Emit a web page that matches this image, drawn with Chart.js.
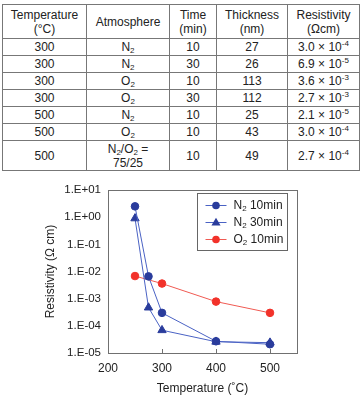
<!DOCTYPE html>
<html><head><meta charset="utf-8">
<script src="https://cdn.jsdelivr.net/npm/chart.js@4.4.0/dist/chart.umd.min.js"></script>
<style>
html,body{margin:0;padding:0;background:#fff;width:361px;height:396px;overflow:hidden;font-family:'Liberation Sans',Arial,sans-serif;color:#222}
#tbl{position:absolute;left:2px;top:4px;border-collapse:collapse;table-layout:fixed;width:357px;font-size:12px}
#tbl td,#tbl th{border:1px solid #777;text-align:center;padding:0;font-weight:normal;line-height:14px;height:16px}
#tbl th{height:33px}
#tbl tr.tall td{height:29px}
sub{font-size:8px;vertical-align:-2px;line-height:0}
sup{font-size:8px;vertical-align:5px;line-height:0}
#wrap{position:absolute;left:0;top:175px;width:361px;height:221px}
</style></head>
<body>
<table id="tbl">
<colgroup><col style="width:84px"><col style="width:83px"><col style="width:47px"><col style="width:71px"><col style="width:72px"></colgroup>
<thead id="thead"></thead><tbody id="tbody"></tbody>
</table>
<div id="wrap"><canvas id="c" width="361" height="221"></canvas></div>
<script>
// ---- table data ----
const headers = ['Temperature\n(°C)', 'Atmosphere', 'Time\n(min)', 'Thickness\n(nm)', 'Resistivity\n(Ωcm)'];
const tempRows = [300, 300, 300, 300, 500, 500, 500];
const atmRows = ['N₂', 'N₂', 'O₂', 'O₂', 'N₂', 'O₂', 'N₂/O₂ =\n75/25'];
const timeRows = [10, 30, 10, 30, 10, 10, 10];
const thickRows = [27, 26, 113, 112, 25, 43, 49];
const resMant = ['3.0', '6.9', '3.6', '2.7', '2.1', '3.0', '2.7'];
const resExp = [-4, -5, -3, -3, -5, -4, -4];

// ---- chart data ----
const seriesNames = ['N₂ 10min', 'N₂ 30min', 'O₂ 10min'];
const n2Temps = [250, 275, 300, 400, 500];
const n2_10 = [2.5, 6.6e-3, 3.0e-4, 2.7e-5, 2.1e-5];
const n2_30 = [0.9, 4.7e-4, 6.9e-5, 2.6e-5, 2.4e-5];
const o2Temps = [250, 300, 400, 500];
const o2_10 = [6.8e-3, 3.6e-3, 7.8e-4, 3.0e-4];
const xTicks = [200, 300, 400, 500];
const yTickExps = [-5, -4, -3, -2, -1, 0, 1];

const fmtSub = s => s.replace(/₂/g, '<sub>2</sub>').replace(/\n/g, '<br>');
document.getElementById('thead').innerHTML = '<tr>' + headers.map(h => '<th>' + fmtSub(h) + '</th>').join('') + '</tr>';
document.getElementById('tbody').innerHTML = tempRows.map((t, i) =>
  '<tr' + (atmRows[i].includes('\n') ? ' class="tall"' : '') + '><td>' + t + '</td><td>' + fmtSub(atmRows[i]) + '</td><td>' + timeRows[i] +
  '</td><td>' + thickRows[i] + '</td><td>' + resMant[i] + ' × 10<sup>' + resExp[i] + '</sup></td></tr>').join('');

const FONT = "'Liberation Sans', Arial, sans-serif";
const BLUE_M = '#2a3c9c', BLUE_L = '#4a62c4', RED_M = '#f2322a', RED_L = '#f05a52';

const frame = {
  id: 'frame',
  beforeDatasetsDraw(c) {
    const {ctx, chartArea: a} = c;
    ctx.save();
    ctx.strokeStyle = '#707070'; ctx.lineWidth = 1;
    const l = Math.round(a.left) + 0.5, t = Math.round(a.top) + 0.5;
    ctx.strokeRect(l, t, Math.round(a.right - a.left), Math.round(a.bottom - a.top));
    const xs = c.scales.x;
    xTicks.forEach(v => {
      const px = Math.round(xs.getPixelForValue(v)) + 0.5;
      ctx.beginPath(); ctx.moveTo(px, a.bottom); ctx.lineTo(px, a.bottom - 4); ctx.stroke();
    });
    ctx.restore();
  },
  afterDraw(c) {
    const {ctx, chartArea: a} = c;
    ctx.save();
    const bx = Math.round(a.right) - 100 + 0.5, by = Math.round(a.top) + 3 + 0.5;
    ctx.fillStyle = '#fff';
    ctx.fillRect(bx, by, 90, 57);
    ctx.strokeStyle = '#666'; ctx.lineWidth = 1;
    ctx.strokeRect(bx, by, 90, 57);
    c.data.datasets.forEach((ds, i) => {
      const y = by + 12 + i * 17;
      const x0 = bx + 8;
      ctx.strokeStyle = ds.borderColor; ctx.lineWidth = 1;
      ctx.beginPath(); ctx.moveTo(x0, y); ctx.lineTo(x0 + 21, y); ctx.stroke();
      ctx.fillStyle = ds.pointBackgroundColor;
      ctx.beginPath();
      if (ds.pointStyle === 'triangle') {
        const r = ds.pointRadius;
        ctx.moveTo(x0 + 10.5, y - r); ctx.lineTo(x0 + 10.5 + r * 0.95, y + r * 0.6); ctx.lineTo(x0 + 10.5 - r * 0.95, y + r * 0.6);
        ctx.closePath();
      } else ctx.arc(x0 + 10.5, y, ds.pointRadius, 0, Math.PI * 2);
      ctx.fill();
      // label with subscript
      ctx.fillStyle = '#222'; ctx.textBaseline = 'middle'; ctx.textAlign = 'left';
      const parts = ds.label.split('₂');
      let tx = x0 + 28;
      ctx.font = '12px ' + FONT;
      ctx.fillText(parts[0], tx, y); tx += ctx.measureText(parts[0]).width;
      ctx.font = '8px ' + FONT;
      ctx.fillText('2', tx, y + 3); tx += ctx.measureText('2').width;
      ctx.font = '12px ' + FONT;
      ctx.fillText(parts[1], tx, y);
    });
    ctx.restore();
  }
};

const toPts = (xs, ys) => xs.map((x, i) => ({x, y: ys[i]}));

new Chart(document.getElementById('c'), {
  type: 'line',
  data: {
    datasets: [
      {label: seriesNames[0], data: toPts(n2Temps, n2_10), borderColor: BLUE_L, pointBackgroundColor: BLUE_M, pointBorderColor: BLUE_M, pointStyle: 'circle', pointRadius: 3.8, borderWidth: 1},
      {label: seriesNames[1], data: toPts(n2Temps, n2_30), borderColor: BLUE_L, pointBackgroundColor: BLUE_M, pointBorderColor: BLUE_M, pointStyle: 'triangle', pointRadius: 4.8, borderWidth: 1},
      {label: seriesNames[2], data: toPts(o2Temps, o2_10), borderColor: RED_L, pointBackgroundColor: RED_M, pointBorderColor: RED_M, pointStyle: 'circle', pointRadius: 3.8, borderWidth: 1}
    ]
  },
  options: {
    responsive: false, animation: false,
    layout: {padding: {left: 0, right: 64, top: 15, bottom: 0}},
    plugins: {legend: {display: false}, tooltip: {enabled: false}},
    elements: {line: {tension: 0}, point: {borderWidth: 0}},
    scales: {
      x: {
        type: 'linear', min: 200, max: 550,
        afterBuildTicks: s => { s.ticks = xTicks.map(v => ({value: v})); },
        afterFit: s => { s.height = 43; },
        grid: {display: false, drawTicks: false}, border: {display: false},
        ticks: {padding: 8, color: '#222', font: {size: 12, family: FONT}},
        title: {display: true, text: 'Temperature (˚C)', padding: 0, color: '#222', font: {size: 12, family: FONT}}
      },
      y: {
        type: 'logarithmic', min: 1e-5, max: 10,
        afterBuildTicks: s => { s.ticks = yTickExps.map(e => ({value: Math.pow(10, e)})); },
        afterFit: s => { s.width = 108; },
        grid: {display: false, drawTicks: false}, border: {display: false},
        ticks: {padding: 7, color: '#222', font: {size: 11.5, family: FONT},
          callback: v => { const e = Math.round(Math.log10(v)); return '1.E' + (e < 0 ? '-' : '+') + String(Math.abs(e)).padStart(2, '0'); }},
        title: {display: true, text: 'Resistivity (Ω cm)', padding: {top: 43, bottom: 0}, color: '#222', font: {size: 12, family: FONT}}
      }
    }
  },
  plugins: [frame]
});
</script>
</body></html>
